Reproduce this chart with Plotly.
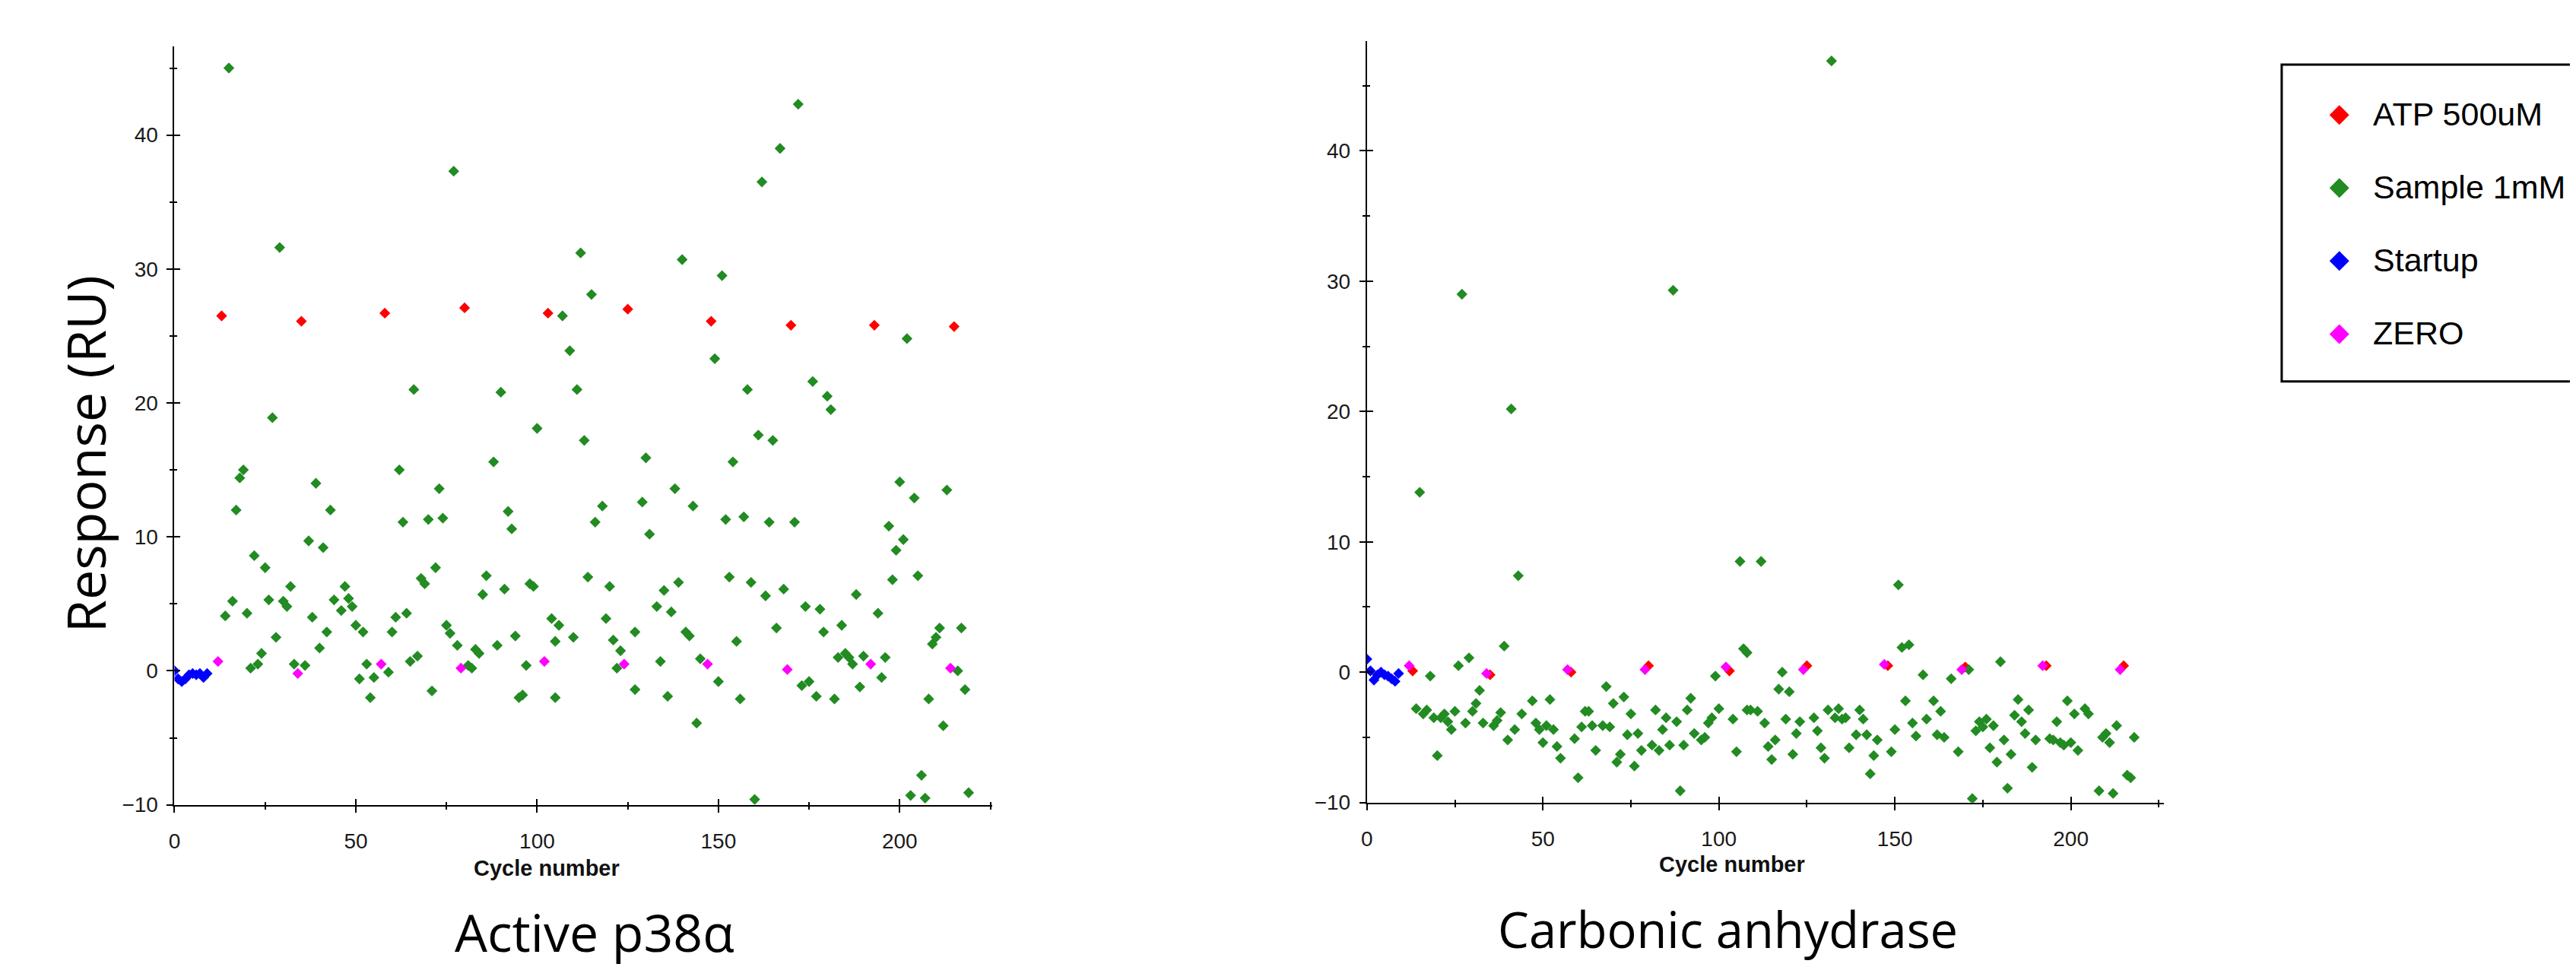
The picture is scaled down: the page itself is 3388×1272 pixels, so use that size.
import plotly.graph_objects as go

W, H = 3388, 1272

# ---------------- data ----------------
series_names = ["ATP 500uM", "Sample 1mM", "Startup", "ZERO"]
series_colors = ["#FF0000", "#228B22", "#0000FF", "#FF00FF"]

startup_x = [0, 1, 2, 3, 4, 5, 6, 7, 8, 9]
zero_x = [12, 34, 57, 79, 102, 124, 147, 169, 192, 214]
atp_x = [13, 35, 58, 80, 103, 125, 148, 170, 193, 215]

# Panel 1: Active p38alpha
p38_startup_y = [0.0, -0.6, -0.8, -0.6, -0.3, -0.2, -0.3, -0.2, -0.5, -0.2]
p38_zero_y = [0.7, -0.2, 0.5, 0.2, 0.7, 0.5, 0.5, 0.1, 0.5, 0.2]
p38_atp_y = [26.5, 26.1, 26.7, 27.1, 26.7, 27.0, 26.1, 25.8, 25.8, 25.7]
p38_sample_x = [14, 15, 16, 17, 18, 19, 20, 21, 22, 23, 24, 25, 26, 27, 28, 29, 30, 31, 32, 33,
                36, 37, 38, 39, 40, 41, 42, 43, 44, 46, 47, 48, 49, 50, 51, 52, 53, 54, 55,
                59, 60, 61, 62, 63, 64, 65, 66, 67, 68, 69, 70, 71, 72, 73, 74, 75, 76, 77, 78,
                81, 82, 83, 84, 85, 86, 88, 89, 90, 91, 92, 93, 94, 95, 96, 97, 98, 99, 100,
                104, 105, 105, 106, 107, 109, 110, 111, 112, 113, 114, 115, 116, 118, 119, 120, 121, 122, 123,
                127, 127, 129, 130, 131, 133, 134, 135, 136, 137, 138, 139, 140, 141, 142, 143, 144, 145,
                149, 150, 151, 152, 153, 154, 155, 156, 157, 158, 159, 160, 161, 162, 163, 164, 165, 166, 167, 168,
                171, 172, 173, 174, 175, 176, 177, 178, 179, 180, 181, 182, 183, 184, 185, 186, 187, 188, 189, 190,
                194, 195, 196, 197, 198, 199, 200, 201, 202, 203, 204, 205, 206, 207, 208, 209, 210, 211, 212, 213,
                216, 217, 218, 219]
p38_sample_y = [4.1, 45.0, 5.2, 12.0, 14.4, 15.0, 4.3, 0.2, 8.6, 0.5, 1.3, 7.7, 5.3, 18.9, 2.5, 31.6, 5.2, 4.8, 6.3, 0.5,
                0.4, 9.7, 4.0, 14.0, 1.7, 9.2, 2.9, 12.0, 5.3, 4.5, 6.3, 5.4, 4.8, 3.4, -0.6, 2.9, 0.5, -2.0, -0.5,
                -0.1, 2.9, 4.0, 15.0, 11.1, 4.3, 0.7, 21.0, 1.1, 6.9, 6.5, 11.3, -1.5, 7.7, 13.6, 11.4, 3.4, 2.8, 37.3, 1.9,
                0.4, 0.2, 1.6, 1.3, 5.7, 7.1, 15.6, 1.9, 20.8, 6.1, 11.9, 10.6, 2.6, -2.0, -1.8, 0.4, 6.5, 6.3, 18.1,
                3.9, 2.2, -2.0, 3.4, 26.5, 23.9, 2.5, 21.0, 31.2, 17.2, 7.0, 28.1, 11.1, 12.3, 3.9, 6.3, 2.3, 0.2, 1.5,
                2.9, -1.4, 12.6, 15.9, 10.2, 4.8, 0.7, 6.0, -1.9, 4.4, 13.6, 6.6, 30.7, 2.9, 2.6, 12.3, -3.9, 0.9,
                23.3, -0.8, 29.5, 11.3, 7.0, 15.6, 2.2, -2.1, 11.5, 21.0, 6.6, -9.6, 17.6, 36.5, 5.6, 11.1, 17.2, 3.2, 39.0, 6.1,
                11.1, 42.3, -1.1, 4.8, -0.8, 21.6, -1.9, 4.6, 2.9, 20.5, 19.5, -2.1, 1.0, 3.4, 1.3, 1.0, 0.5, 5.7, -1.2, 1.1,
                4.3, -0.5, 1.0, 10.8, 6.8, 9.0, 14.1, 9.8, 24.8, -9.3, 12.9, 7.1, -7.8, -9.5, -2.1, 2.0, 2.5, 3.2, -4.1, 13.5,
                0.0, 3.2, -1.4, -9.1]

# Panel 2: Carbonic anhydrase
ca_startup_y = [1.0, 0.1, -0.6, -0.2, 0.0, -0.2, -0.3, -0.5, -0.7, -0.1]
ca_zero_y = [0.5, -0.1, 0.2, 0.2, 0.4, 0.2, 0.6, 0.2, 0.5, 0.2]
ca_atp_y = [0.1, -0.2, 0.0, 0.5, 0.1, 0.5, 0.5, 0.4, 0.5, 0.5]
ca_sample_x = [14, 15, 16, 17, 18, 19, 20, 21, 22, 23, 24, 25, 26, 27, 28, 29, 30, 31, 32, 33,
               36, 37, 38, 39, 40, 41, 42, 43, 44, 47, 48, 49, 50, 51, 52, 53, 54, 55,
               59, 60, 61, 62, 63, 64, 65, 67, 68, 69, 70, 71, 72, 73, 74, 75, 76, 77, 78,
               81, 82, 83, 84, 85, 86, 87, 88, 89, 90, 91, 92, 93, 95, 96, 97, 98, 99, 100,
               104, 105, 106, 107, 108, 108, 109, 111, 112, 113, 114, 115, 116, 117, 118, 119, 120, 121, 122, 123,
               127, 128, 129, 130, 131, 132, 133, 134, 135, 136, 137, 139, 140, 141, 142, 143, 144, 145,
               149, 150, 151, 152, 153, 154, 155, 156, 158, 159, 161, 162, 163, 164, 166, 168,
               171, 172, 173, 174, 175, 176, 177, 178, 179, 180, 181, 182, 183, 184, 185, 186, 187, 188, 189, 190,
               194, 195, 196, 197, 198, 199, 200, 201, 202, 204, 205, 208, 209, 210, 211, 212, 213,
               216, 217, 218]
ca_sample_y = [-2.8, 13.8, -3.2, -2.9, -0.3, -3.5, -6.4, -3.5, -3.2, -3.8, -4.4, -3.0, 0.5, 29.0, -3.9, 1.1, -3.0, -2.4, -1.4, -3.9,
               -4.1, -3.7, -3.1, 2.0, -5.2, 20.2, -4.4, 7.4, -3.2, -2.2, -3.9, -4.4, -5.4, -4.1, -2.1, -4.4, -5.7, -6.6,
               -5.1, -8.1, -4.2, -3.0, -3.0, -4.1, -6.0, -4.1, -1.1, -4.2, -2.4, -6.9, -6.3, -1.9, -4.8, -3.2, -7.2, -4.7, -6.0,
               -5.6, -2.9, -6.0, -4.4, -3.5, -5.6, 29.3, -3.8, -9.1, -5.6, -2.9, -2.0, -4.7, -5.2, -5.0, -3.9, -3.5, -0.3, -2.8,
               -3.6, -6.1, 8.5, 1.8, 1.5, -2.9, -2.9, -3.0, 8.5, -3.9, -5.7, -6.7, -5.2, -1.3, 0.0, -3.6, -1.5, -6.3, -4.7, -3.8,
               -3.5, -4.5, -5.8, -6.6, -2.9, 46.9, -3.5, -2.8, -3.6, -3.5, -5.8, -4.8, -2.9, -3.6, -4.8, -7.8, -6.4, -5.2,
               -6.1, -4.4, 6.7, 1.9, -2.2, 2.1, -3.9, -4.9, -0.2, -3.6, -2.2, -4.8, -3.0, -5.0, -0.5, -6.1,
               0.2, -9.7, -4.5, -3.8, -4.2, -3.6, -5.8, -4.1, -6.9, 0.8, -5.2, -8.9, -6.3, -3.3, -2.1, -3.8, -4.7, -2.9, -7.3, -5.2,
               -5.1, -5.2, -3.8, -5.4, -5.6, -2.2, -5.4, -3.2, -6.0, -2.8, -3.2, -9.1, -5.0, -4.7, -5.4, -9.3, -4.1,
               -7.9, -8.1, -5.0]

panel_titles = ["Active p38α", "Carbonic anhydrase"]
x_title = "Cycle number"
y_title = "Response (RU)"


def fx(px):
    return px / W


def fy(py):
    return 1 - py / H


fig = go.Figure()

panels = [
    dict(x="x", y="y", startup=p38_startup_y, zero=p38_zero_y, atp=p38_atp_y,
         sx=p38_sample_x, sy=p38_sample_y),
    dict(x="x2", y="y2", startup=ca_startup_y, zero=ca_zero_y, atp=ca_atp_y,
         sx=ca_sample_x, sy=ca_sample_y),
]

MS = 11
for p in panels:
    sets = [(atp_x, p["atp"]), (p["sx"], p["sy"]), (startup_x, p["startup"]), (zero_x, p["zero"])]
    for (xs, ys), nm, col in zip(sets, series_names, series_colors):
        fig.add_trace(go.Scatter(
            x=xs, y=ys, mode="markers", name=nm, showlegend=False,
            xaxis=p["x"], yaxis=p["y"],
            marker=dict(symbol="diamond", size=MS, color=col, line=dict(width=0)),
        ))

# dummy traces so overlay axes (inner half of the crossing ticks) render
for xa, ya in [("x3", "y3"), ("x4", "y4")]:
    fig.add_trace(go.Scatter(x=[None], y=[None], mode="markers", showlegend=False,
                             xaxis=xa, yaxis=ya, hoverinfo="skip"))

# ---------------- legend (drawn in a pixel-space helper axis) ----------------
LEG_LEFT, LEG_TOP, LEG_BOTTOM = 2992, 78, 500
LEG_ROW0, LEG_ROWGAP = 145, 97.3
LEG_MARK_X, LEG_TEXT_X = 3068, 3110
leg_rows = [LEG_ROW0 + i * LEG_ROWGAP for i in range(len(series_names))]

fig.add_trace(go.Scatter(
    x=[LEG_MARK_X] * len(series_names), y=leg_rows, mode="markers", showlegend=False,
    xaxis="x5", yaxis="y5", cliponaxis=False, hoverinfo="skip",
    marker=dict(symbol="diamond", size=20, color=series_colors, line=dict(width=0)),
))

tickfont = dict(family="Liberation Sans, Arial, sans-serif", size=28, color="#1a1a1a")

# panel geometry (pixels)
geo = [
    dict(x0=214, x1=1292, xr=[0, 225.5], y0=1064, y1=54, yr=[-10, 46.6]),
    dict(x0=1786, x1=2837, xr=[0, 226.5], y0=1061, y1=47, yr=[-10, 48.4]),
]


def xaxis_common(g, inner=False):
    d = dict(domain=[fx(g["x0"]), fx(g["x1"])], range=g["xr"], showgrid=False, zeroline=False,
             tick0=0, dtick=50, ticks="inside" if inner else "outside", ticklen=8, tickwidth=2,
             tickcolor="black",
             minor=dict(ticks="inside" if inner else "outside", dtick=25, ticklen=4, tickwidth=2,
                        tickcolor="black", showgrid=False))
    if inner:
        d.update(showline=False, showticklabels=False)
    else:
        d.update(showline=True, linewidth=2, linecolor="black", tickfont=tickfont,
                 ticklabelstandoff=14)
    return d


def yaxis_common(g, inner=False):
    d = dict(domain=[fy(g["y0"]), fy(g["y1"])], range=g["yr"], showgrid=False, zeroline=False,
             tick0=0, dtick=10, ticks="inside" if inner else "outside", ticklen=8, tickwidth=2,
             tickcolor="black",
             minor=dict(ticks="inside" if inner else "outside", dtick=5, ticklen=4, tickwidth=2,
                        tickcolor="black", showgrid=False))
    if inner:
        d.update(showline=False, showticklabels=False)
    else:
        d.update(showline=True, linewidth=2, linecolor="black", tickfont=tickfont,
                 ticklabelstandoff=6)
    return d


xa1 = xaxis_common(geo[0]); xa1.update(anchor="y")
ya1 = yaxis_common(geo[0]); ya1.update(anchor="x")
xa2 = xaxis_common(geo[1]); xa2.update(anchor="y2")
ya2 = yaxis_common(geo[1]); ya2.update(anchor="x2")
xa3 = xaxis_common(geo[0], True); xa3.update(anchor="y3", overlaying="x")
ya3 = yaxis_common(geo[0], True); ya3.update(anchor="x3", overlaying="y")
xa4 = xaxis_common(geo[1], True); xa4.update(anchor="y4", overlaying="x2")
ya4 = yaxis_common(geo[1], True); ya4.update(anchor="x4", overlaying="y2")
xa5 = dict(domain=[0, 1], range=[0, W], visible=False, anchor="y5")
ya5 = dict(domain=[0, 1], range=[H, 0], visible=False, anchor="x5")

bold_font = dict(family="Liberation Sans, Arial, sans-serif", size=29, color="#111", weight="bold")
big_font = dict(family="Open Sans, Noto Sans, sans-serif", size=70, color="black")
leg_font = dict(family="Liberation Sans, Arial, sans-serif", size=43, color="black")

annotations = [
    dict(text=x_title, x=fx(705), y=fy(1148), xref="paper", yref="paper", showarrow=False,
         xanchor="center", yanchor="middle", font=bold_font),
    dict(text=x_title, x=fx(2267), y=fy(1143), xref="paper", yref="paper", showarrow=False,
         xanchor="center", yanchor="middle", font=bold_font),
    dict(text=y_title, x=fx(97), y=fy(597), xref="paper", yref="paper", showarrow=False,
         xanchor="center", yanchor="middle", textangle=-90, font=big_font),
    dict(text=panel_titles[0], x=fx(768), y=fy(1233), xref="paper", yref="paper", showarrow=False,
         xanchor="center", yanchor="middle", font=dict(big_font, size=68)),
    dict(text=panel_titles[1], x=fx(2262), y=fy(1229), xref="paper", yref="paper", showarrow=False,
         xanchor="center", yanchor="middle", font=dict(big_font, size=65)),
]
for nm, ry in zip(series_names, leg_rows):
    annotations.append(dict(text=nm, x=fx(LEG_TEXT_X), y=fy(ry - 1), xref="paper", yref="paper",
                            showarrow=False, xanchor="left", yanchor="middle", font=leg_font))

shapes = [dict(type="rect", xref="paper", yref="paper",
               x0=fx(LEG_LEFT), x1=fx(W + 20), y0=fy(LEG_BOTTOM), y1=fy(LEG_TOP),
               line=dict(color="black", width=3), fillcolor="rgba(0,0,0,0)", layer="above")]

fig.update_layout(
    width=W, height=H, autosize=False,
    margin=dict(l=0, r=0, t=0, b=0, pad=0),
    paper_bgcolor="white", plot_bgcolor="rgba(0,0,0,0)",
    xaxis=xa1, yaxis=ya1, xaxis2=xa2, yaxis2=ya2,
    xaxis3=xa3, yaxis3=ya3, xaxis4=xa4, yaxis4=ya4,
    xaxis5=xa5, yaxis5=ya5,
    annotations=annotations, shapes=shapes,
    showlegend=False,
)

fig.write_html("out.html")
